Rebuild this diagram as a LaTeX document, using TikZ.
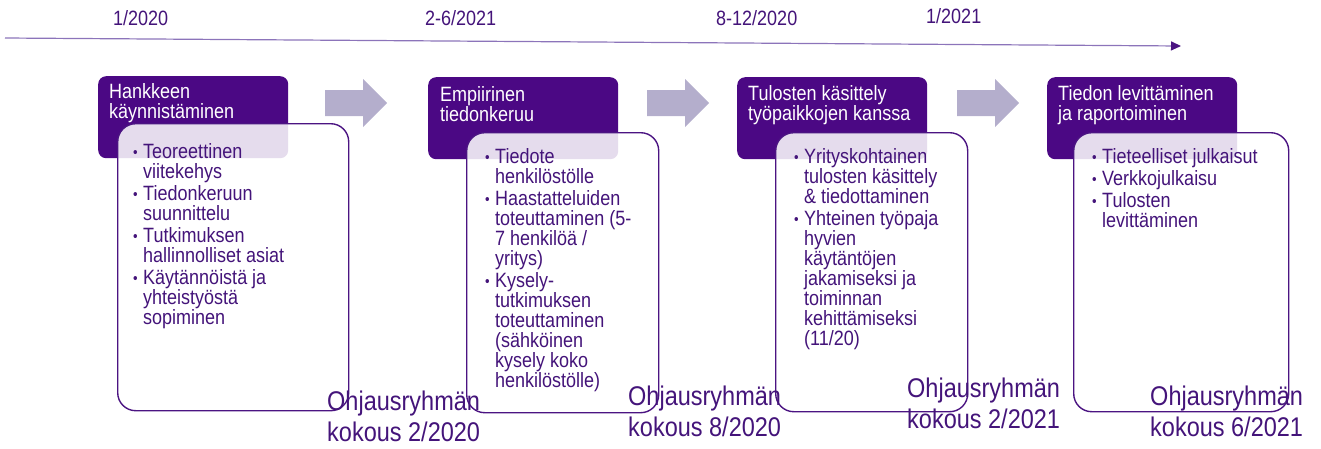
\documentclass[tikz,border=0pt]{standalone}
\usepackage{fontspec}
\usepackage{graphicx}
\setmainfont{Liberation Sans}
\usetikzlibrary{arrows.meta}
\definecolor{hdr}{RGB}{75,8,132}
\definecolor{txt}{RGB}{68,20,122}
\definecolor{tlline}{RGB}{140,116,186}
\definecolor{blk}{RGB}{180,174,204}
\definecolor{outl}{RGB}{75,20,130}
\newcommand{\bul}{\makebox[10pt][l]{\raisebox{0.5pt}{\fontsize{13}{13}\selectfont •}}}
\newcommand{\ind}{\hspace*{10pt}}
\newcommand{\vst}[1]{\scalebox{1}[1.15]{#1}}
\newcommand{\tblock}[2]{\vst{\parbox[t]{#1}{\raggedright\lineskiplimit=-100pt\relax #2}}}
\begin{document}
\begin{tikzpicture}[x=1pt,y=-1pt,
  hdrbox/.style={fill=hdr, rounded corners=8pt, minimum width=190pt, minimum height=82pt, inner sep=0pt, anchor=north west},
  bodybox/.style={draw=outl, line width=1.4pt, fill=white, fill opacity=0.86, draw opacity=1, rounded corners=18pt, inner sep=0pt, anchor=north west},
  hdrtext/.style={text=white, font=\fontsize{18}{18.1}\selectfont, anchor=base west, inner sep=0pt},
  bodytext/.style={text=txt, font=\fontsize{18}{17.39}\selectfont, anchor=base west, inner sep=0pt},
  datetext/.style={text=txt, font=\fontsize{18}{21}\selectfont, anchor=base west, inner sep=0pt},
  labeltext/.style={text=txt, font=\fontsize{23.5}{26.96}\selectfont, anchor=base west, inner sep=0pt},
  blockarrow/.style={fill=blk}
]
\useasboundingbox (0,0) rectangle (1321,448);

% timeline
\coordinate (t0) at (5,38);
\coordinate (t1) at (1181,46);
\draw[tlline, line width=1.2pt, -{Triangle[length=10pt,width=9pt,color=outl]}] (t0) -- (t1);

% dates
\node[datetext] (d1) at (113,25) {\vst{1/2020}};
\node[datetext] (d2) at (425,25) {\vst{2-6/2021}};
\node[datetext] (d3) at (716,25) {\vst{8-12/2020}};
\node[datetext] (d4) at (926,23) {\vst{1/2021}};

% block arrows
\foreach \ax/\nm in {325/a1, 647/a2, 957/a3}{
  \fill[blockarrow] (\ax,90) -- ++(38,0) -- ++(0,-11) -- ++(24,24) -- ++(-24,24) -- ++(0,-11) -- ++(-38,0) -- cycle;
}

% header boxes
\node[hdrbox] (h1) at (98,76) {};
\node[hdrbox] (h2) at (428,77) {};
\node[hdrbox] (h3) at (737,77) {};
\node[hdrbox] (h4) at (1047,77) {};

\node[hdrtext] (h1t) at (109,98) {\tblock{185pt}{Hankkeen\\ käynnistäminen}};
\node[hdrtext] (h2t) at (440,101) {\tblock{185pt}{Empiirinen\\ tiedonkeruu}};
\node[hdrtext] (h3t) at (748,100) {\tblock{185pt}{Tulosten käsittely\\ työpaikkojen kanssa}};
\node[hdrtext] (h4t) at (1058,100) {\tblock{185pt}{Tiedon levittäminen\\ ja raportoiminen}};

% body boxes
\node[bodybox, minimum width=231pt, minimum height=287pt] (b1) at (117,123) {};
\node[bodybox, minimum width=192pt, minimum height=280pt] (b2) at (466,132) {};
\node[bodybox, minimum width=192pt, minimum height=279pt] (b3) at (775,132) {};
\node[bodybox, minimum width=215pt, minimum height=279pt] (b4) at (1073,132) {};

\node[bodytext] (b1t) at (133,158.5) {\tblock{215pt}{%
\bul Teoreettinen\\ \ind viitekehys\\[1.74pt]
\bul Tiedonkeruun\\ \ind suunnittelu\\[1.74pt]
\bul Tutkimuksen\\ \ind hallinnolliset  asiat\\[1.74pt]
\bul Käytännöistä ja\\ \ind yhteistyöstä\\ \ind sopiminen}};

\node[bodytext] (b2t) at (485,163.5) {\tblock{180pt}{%
\bul Tiedote\\ \ind henkilöstölle\\[1.74pt]
\bul Haastatteluiden\\ \ind toteuttaminen  (5-\\ \ind 7 henkilöä  /\\ \ind yritys)\\[1.74pt]
\bul Kysely-\\ \ind tutkimuksen\\ \ind toteuttaminen\\ \ind (sähköinen\\ \ind kysely  koko\\ \ind henkilöstölle)}};

\node[bodytext] (b3t) at (794,163.5) {\tblock{180pt}{%
\bul Yrityskohtainen\\ \ind tulosten  käsittely\\ \ind \& tiedottaminen\\[1.74pt]
\bul Yhteinen  työpaja\\ \ind hyvien\\ \ind käytäntöjen\\ \ind jakamiseksi  ja\\ \ind toiminnan\\ \ind kehittämiseksi\\ \ind (11/20)}};

\node[bodytext] (b4t) at (1092,163.5) {\tblock{200pt}{%
\bul Tieteelliset  julkaisut\\[1.74pt]
\bul Verkkojulkaisu\\[1.74pt]
\bul Tulosten\\ \ind levittäminen}};

% bottom labels
\node[labeltext] (l1) at (327,410) {\tblock{200pt}{Ohjausryhmän\\ kokous 2/2020}};
\node[labeltext] (l2) at (628,405) {\tblock{200pt}{Ohjausryhmän\\ kokous 8/2020}};
\node[labeltext] (l3) at (907,397) {\tblock{200pt}{Ohjausryhmän\\ kokous 2/2021}};
\node[labeltext] (l4) at (1150,405) {\tblock{200pt}{Ohjausryhmän\\ kokous 6/2021}};
\end{tikzpicture}
\end{document}
